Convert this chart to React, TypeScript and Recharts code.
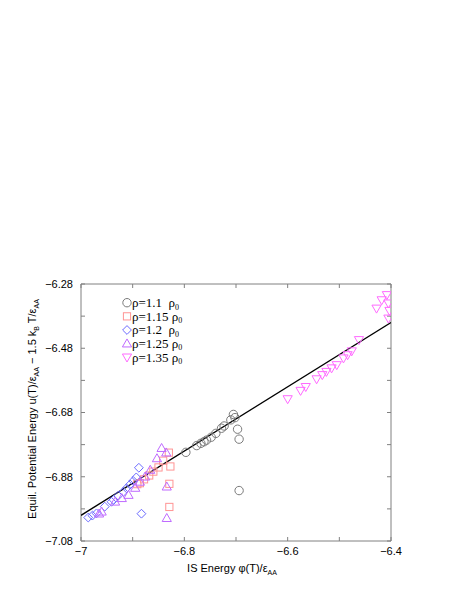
import React from 'react';
import { ScatterChart, Scatter, XAxis, YAxis, ReferenceLine, ReferenceArea, Legend } from 'recharts';

// ρ = 1.1 ρ0 (circles)
const rho11X = [-6.797, -6.776, -6.768, -6.762, -6.757, -6.748, -6.739, -6.728, -6.723, -6.710, -6.705, -6.702, -6.697, -6.694, -6.694];
const rho11Y = [-6.804, -6.783, -6.776, -6.771, -6.766, -6.757, -6.745, -6.729, -6.722, -6.703, -6.686, -6.696, -6.732, -6.763, -6.923];
// ρ = 1.15 ρ0 (squares)
const rho115X = [-6.830, -6.841, -6.850, -6.860, -6.868, -6.878, -6.886, -6.891, -6.827, -6.829, -6.829];
const rho115Y = [-6.805, -6.830, -6.851, -6.864, -6.876, -6.888, -6.900, -6.903, -6.848, -6.902, -6.974];
// ρ = 1.2 ρ0 (diamonds)
const rho12X = [-6.986, -6.978, -6.970, -6.954, -6.941, -6.937, -6.928, -6.918, -6.912, -6.905, -6.899, -6.893, -6.888, -6.883];
const rho12Y = [-7.007, -7.001, -6.994, -6.973, -6.958, -6.952, -6.939, -6.927, -6.916, -6.904, -6.893, -6.882, -6.852, -6.995];
// ρ = 1.25 ρ0 (triangles up)
const rho125X = [-6.965, -6.960, -6.934, -6.921, -6.908, -6.895, -6.886, -6.876, -6.866, -6.853, -6.844, -6.835, -6.834, -6.834];
const rho125Y = [-6.995, -6.989, -6.958, -6.947, -6.937, -6.915, -6.896, -6.880, -6.859, -6.823, -6.791, -6.805, -6.911, -7.009];
// ρ = 1.35 ρ0 (triangles down)
const rho135X = [-6.600, -6.575, -6.565, -6.544, -6.533, -6.525, -6.515, -6.505, -6.492, -6.484, -6.476, -6.462, -6.428, -6.418, -6.408, -6.405, -6.403, -6.405];
const rho135Y = [-6.638, -6.612, -6.600, -6.576, -6.563, -6.553, -6.542, -6.532, -6.511, -6.501, -6.489, -6.454, -6.356, -6.330, -6.314, -6.340, -6.363, -6.387];

// fitted line u = φ
const fitX = [-7.0, -6.4];
const fitY = [-7.0, -6.4];

const xTicks = [-7, -6.9, -6.8, -6.7, -6.6, -6.5, -6.4];
const xTickLabels = ['−7', '', '−6.8', '', '−6.6', '', '−6.4'];
const yTicks = [-7.08, -6.98, -6.88, -6.78, -6.68, -6.58, -6.48, -6.38, -6.28];
const yTickLabels = ['−7.08', '', '−6.88', '', '−6.68', '', '−6.48', '', '−6.28'];

const legendLabels = ['ρ=1.1  ρ', 'ρ=1.15 ρ', 'ρ=1.2  ρ', 'ρ=1.25 ρ', 'ρ=1.35 ρ'];
const seriesKinds = ['circle', 'square', 'diamond', 'up', 'down'];
const seriesColors = ['#7a7a7a', '#ff9494', '#6a6aff', '#bf6aff', '#ff6aff'];

const toPts = (xs: number[], ys: number[]) => xs.map((x, i) => ({ x, y: ys[i] }));
const seriesData = [
  toPts(rho11X, rho11Y),
  toPts(rho115X, rho115Y),
  toPts(rho12X, rho12Y),
  toPts(rho125X, rho125Y),
  toPts(rho135X, rho135Y),
];
const fitData = toPts(fitX, fitY);

const XMIN = -7, XMAX = -6.4, YMIN = -7.08, YMAX = -6.28;
const dxTick = (0.6 * 4) / 310;
const dyTick = (0.8 * 4) / 257;

function marker(kind: string, cx: number, cy: number, color: string) {
  const common = { fill: 'none', stroke: color, strokeWidth: 1 };
  switch (kind) {
    case 'circle':
      return <circle cx={cx} cy={cy} r={4.2} {...common} />;
    case 'square':
      return <rect x={cx - 3.6} y={cy - 3.6} width={7.2} height={7.2} {...common} />;
    case 'diamond':
      return <polygon points={`${cx},${cy - 4.4} ${cx + 4.4},${cy} ${cx},${cy + 4.4} ${cx - 4.4},${cy}`} {...common} />;
    case 'up':
      return <polygon points={`${cx},${cy - 4.7} ${cx + 4.6},${cy + 3.3} ${cx - 4.6},${cy + 3.3}`} {...common} />;
    default:
      return <polygon points={`${cx},${cy + 4.7} ${cx + 4.6},${cy - 3.3} ${cx - 4.6},${cy - 3.3}`} {...common} />;
  }
}

const renderLegend = () => (
  <svg width={140} height={75} style={{ overflow: 'visible', display: 'block' }}>
    {legendLabels.map((lab, i) => {
      const cy = 8.7 + i * 13.65;
      return (
        <g key={i}>
          {marker(seriesKinds[i], 9, cy, seriesColors[i])}
          <text x={14} y={cy + 4.3} fontFamily="'Liberation Serif', serif" fontSize={13} fill="#000" style={{ whiteSpace: 'pre' }}>
            {lab}
            <tspan fontSize={8} dy={2.5}>0</tspan>
          </text>
        </g>
      );
    })}
  </svg>
);

const renderYLabel = () => (
  <text
    transform="translate(36,409) rotate(-90)"
    textAnchor="middle"
    fontFamily="'Liberation Sans', Arial, sans-serif"
    fontSize={11}
    fill="#000"
  >
    Equil. Potential Energy u(T)/ε<tspan fontSize={7} dy={2.5}>AA</tspan>
    <tspan dy={-2.5}> − 1.5 k</tspan>
    <tspan fontSize={7} dy={2.5}>B</tspan>
    <tspan dy={-2.5}> T/ε</tspan>
    <tspan fontSize={7} dy={2.5}>AA</tspan>
  </text>
);

const renderXLabel = () => (
  <text x={232} y={572} textAnchor="middle" fontFamily="'Liberation Sans', Arial, sans-serif" fontSize={11} fill="#000">
    IS Energy φ(T)/ε<tspan fontSize={7} dy={2.5}>AA</tspan>
  </text>
);

const tickStyle = { fontFamily: "'Liberation Sans', Arial, sans-serif", fontSize: 11, fill: '#000' };

export default function App() {
  return (
    <div style={{ position: 'absolute', left: 0, top: 0, width: 471, height: 610, background: '#fff' }}>
      <ScatterChart width={471} height={610} margin={{ top: 284, right: 80, bottom: 39, left: 21 }}>
        <XAxis
          type="number"
          dataKey="x"
          domain={[XMIN, XMAX]}
          ticks={xTicks}
          tickFormatter={(v: number, i: number) => xTickLabels[i]}
          allowDataOverflow
          axisLine={false}
          tickLine={false}
          tickSize={0}
          tickMargin={6}
          tick={tickStyle}
          height={30}
          interval={0}
          label={renderXLabel}
        />
        <YAxis
          type="number"
          dataKey="y"
          domain={[YMIN, YMAX]}
          ticks={yTicks}
          tickFormatter={(v: number, i: number) => yTickLabels[i]}
          allowDataOverflow
          axisLine={false}
          tickLine={false}
          tickSize={0}
          tickMargin={8}
          tick={tickStyle}
          width={60}
          interval={0}
          label={renderYLabel}
        />
        <ReferenceArea x1={XMIN} x2={XMAX} y1={YMIN} y2={YMAX} fill="none" stroke="#808080" strokeWidth={1} fillOpacity={0} />
        {xTicks.map((t, i) => (
          <ReferenceLine key={'xb' + i} segment={[{ x: t, y: YMIN }, { x: t, y: YMIN + dyTick }]} stroke="#808080" />
        ))}
        {xTicks.map((t, i) => (
          <ReferenceLine key={'xt' + i} segment={[{ x: t, y: YMAX }, { x: t, y: YMAX - dyTick }]} stroke="#808080" />
        ))}
        {yTicks.map((t, i) => (
          <ReferenceLine key={'yl' + i} segment={[{ x: XMIN, y: t }, { x: XMIN + dxTick, y: t }]} stroke="#808080" />
        ))}
        {yTicks.map((t, i) => (
          <ReferenceLine key={'yr' + i} segment={[{ x: XMAX, y: t }, { x: XMAX - dxTick, y: t }]} stroke="#808080" />
        ))}
        <Scatter
          data={fitData}
          line={{ stroke: '#000', strokeWidth: 1.4 }}
          shape={() => <g />}
          isAnimationActive={false}
          legendType="none"
        />
        {seriesData.map((d, i) => (
          <Scatter
            key={i}
            data={d}
            isAnimationActive={false}
            shape={(p: any) => marker(seriesKinds[i], p.cx, p.cy, seriesColors[i])}
          />
        ))}
        <Legend
          content={renderLegend}
          layout="vertical"
          align="center"
          verticalAlign="middle"
          wrapperStyle={{ position: 'absolute', left: 118, top: 294, width: 140, height: 75 }}
        />
      </ScatterChart>
    </div>
  );
}
